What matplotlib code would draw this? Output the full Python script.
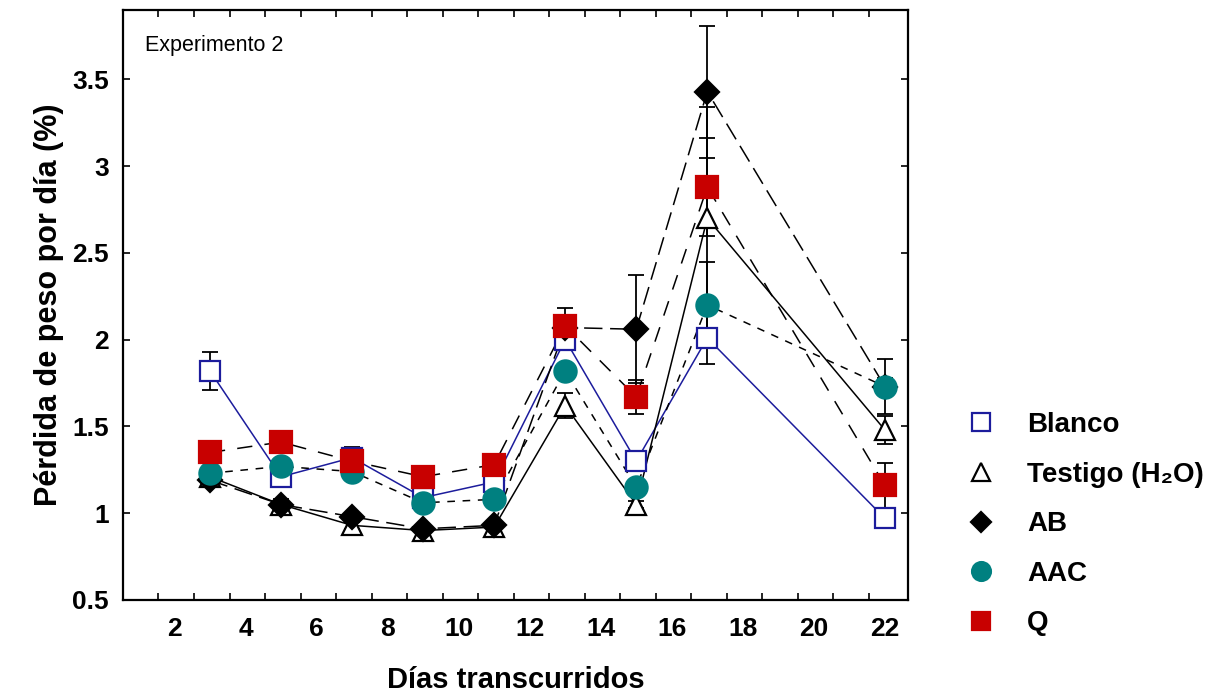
import numpy as np
import matplotlib
matplotlib.use('Agg')
import matplotlib.pyplot as plt
from matplotlib.lines import Line2D

plt.rcParams['font.family'] = ['Liberation Sans', 'DejaVu Sans']

days = [3, 5, 7, 9, 11, 13, 15, 17, 22]

blanco = [1.82, 1.21, 1.32, 1.09, 1.18, 2.00, 1.30, 2.01, 0.97]
testigo = [1.21, 1.05, 0.93, 0.90, 0.92, 1.62, 1.05, 2.70, 1.48]
ab = [1.19, 1.05, 0.98, 0.91, 0.93, 2.07, 2.06, 3.43, 1.73]
aac = [1.23, 1.27, 1.24, 1.06, 1.08, 1.82, 1.15, 2.20, 1.73]
q = [1.35, 1.41, 1.30, 1.21, 1.28, 2.08, 1.67, 2.88, 1.16]

blanco_err = [0.11, 0.02, 0.06, 0.02, 0.02, 0.03, 0.03, 0.15, 0.02]
testigo_err = [0.03, 0.02, 0.02, 0.03, 0.02, 0.07, 0.02, 0.64, 0.08]
ab_err = [0.02, 0.03, 0.02, 0.02, 0.02, 0.03, 0.31, 0.38, 0.16]
aac_err = [0.02, 0.02, 0.02, 0.02, 0.02, 0.03, 0.02, 0.25, 0.05]
q_err = [0.02, 0.02, 0.04, 0.02, 0.02, 0.10, 0.10, 0.28, 0.13]

labels = ['Blanco', 'Testigo (H\u2082O)', 'AB', 'AAC', 'Q']

fig = plt.figure(figsize=(12.26, 6.96), dpi=100)
ax = fig.add_axes([0.1003, 0.138, 0.6403, 0.8476])

blue = '#1c1c9c'
red = '#c80000'
teal = '#008080'

series = [
    # values, errors, line color, dashes, marker, face, edge, size
    (blanco, blanco_err, blue, None, 's', 'white', blue, 15),
    (testigo, testigo_err, 'black', None, '^', 'white', 'black', 15),
    (ab, ab_err, 'black', (12, 5), 'D', 'black', 'black', 12),
    (aac, aac_err, 'black', (5, 5), 'o', teal, teal, 16),
    (q, q_err, 'black', (10, 8), 's', red, red, 16),
]

for vals, err, lc, dashes, mk, fc, ec, ms in series:
    line, = ax.plot(days, vals, color=lc, lw=1.1, zorder=2)
    if dashes is not None:
        line.set_dashes(dashes)
    ax.errorbar(days, vals, yerr=err, fmt='none', ecolor='black',
                elinewidth=1.3, capsize=5.5, capthick=1.3, zorder=3)

for vals, err, lc, dashes, mk, fc, ec, ms in series:
    ax.plot(days, vals, ls='none', marker=mk, ms=ms, mfc=fc, mec=ec,
            mew=1.6, zorder=4)

ax.set_xlim(0.55, 22.65)
ax.set_ylim(0.5, 3.9)
ax.set_xticks(np.arange(2, 23, 2))
ax.set_xticks(np.arange(1.55, 22, 1.0), minor=True)
ax.set_yticks([0.5, 1, 1.5, 2, 2.5, 3, 3.5])
ax.set_yticklabels(['0.5', '1', '1.5', '2', '2.5', '3', '3.5'])
ax.tick_params(axis='x', which='major', length=0, labelsize=19, pad=12)
ax.tick_params(axis='x', which='minor', direction='in', length=5, width=1.2,
               top=True, bottom=True)
ax.tick_params(axis='y', direction='in', length=5, width=1.2, left=True,
               right=True, labelsize=19, pad=10)
for lab in ax.get_xticklabels() + ax.get_yticklabels():
    lab.set_fontweight('bold')
for sp in ax.spines.values():
    sp.set_linewidth(1.6)

ax.set_xlabel('Días transcurridos', fontsize=21, fontweight='bold', labelpad=18)
ax.set_ylabel('Pérdida de peso por día (%)', fontsize=22, fontweight='bold',
              labelpad=6)
ax.text(0.028, 0.958, 'Experimento 2', transform=ax.transAxes, fontsize=15.5,
        va='top', ha='left')

handles = []
for vals, err, lc, dashes, mk, fc, ec, ms in series:
    handles.append(Line2D([], [], ls='none', marker=mk, ms=ms * 0.85, mfc=fc,
                          mec=ec, mew=1.6))
fig.legend(handles, labels, loc='upper left', bbox_to_anchor=(0.7685, 0.424),
           frameon=False, prop={'size': 20, 'weight': 'bold'},
           handletextpad=0.65, labelspacing=0.85, borderaxespad=0)

fig.savefig('out.png', dpi=100)
